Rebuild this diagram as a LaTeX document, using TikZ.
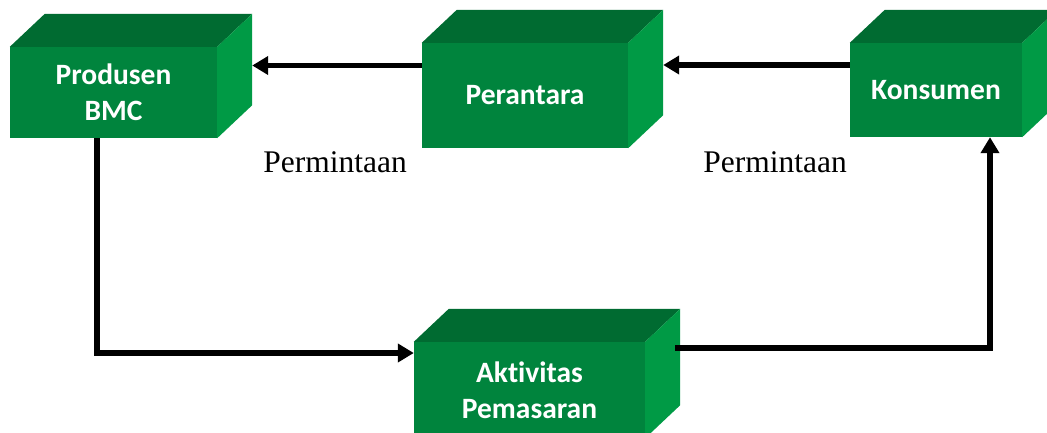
\documentclass[tikz,border=0pt]{standalone}
\usepackage{fontspec}
\setmainfont{Liberation Serif}
\newfontfamily\boxfont{Carlito}[Ligatures=NoCommon]
\usetikzlibrary{arrows.meta, calc}

\definecolor{frontgreen}{RGB}{0,132,61}
\definecolor{topgreen}{RGB}{0,107,49}
\definecolor{sidegreen}{RGB}{0,154,69}

\begin{document}
\begin{tikzpicture}[
    x=1pt, y=-1pt,
    block/.style={rectangle, fill=frontgreen, inner sep=0pt, align=center, text=white, font=\boxfont\bfseries\fontsize{29.5}{36}\selectfont},
    demand/.style={inner sep=0pt, font=\fontsize{31.5}{38}\selectfont},
    arrow/.style={-{Triangle[length=16pt, width=18pt]}, line width=5.5pt}
]
    \clip (0,0) rectangle (1047,432);

    \node[block, minimum width=207pt, minimum height=91pt] (produsen) at (113.5,92.5) {Produsen\\BMC};
    \node[block, minimum width=206pt, minimum height=105pt] (perantara) at (525,95.5) {Perantara};
    \node[block, minimum width=172pt, minimum height=94pt] (konsumen) at (936,90) {Konsumen};
    \node[block, minimum width=231pt, minimum height=96pt] (aktivitas) at (529.5,390) {Aktivitas\\Pemasaran};

    \foreach \n in {produsen, perantara, konsumen, aktivitas} {
        \fill[topgreen] (\n.north west) -- ++(35,-33) -- ($(\n.north east)+(35,-33)$) -- (\n.north east) -- cycle;
        \fill[sidegreen] (\n.north east) -- ++(35,-33) -- ($(\n.south east)+(35,-33)$) -- (\n.south east) -- cycle;
        \coordinate (\n-back) at ($(\n.east)+(35,-33)$);
    }

    \node[demand] (permintaan1) at (335,162) {Permintaan};
    \node[demand] (permintaan2) at (775,162) {Permintaan};

    \draw[arrow] ([yshift=30pt]perantara.west) -- ([yshift=30pt]perantara.west -| produsen-back);
    \draw[arrow] ([yshift=25pt]konsumen.west) -- ([yshift=25pt]konsumen.west -| perantara-back);
    \draw[arrow] ([xshift=-16.5pt]produsen.south) |- ([yshift=37pt]aktivitas.west);
    \draw[arrow] ([xshift=30pt, yshift=42pt]aktivitas.east) -| ([xshift=54pt]konsumen.south);
\end{tikzpicture}
\end{document}
